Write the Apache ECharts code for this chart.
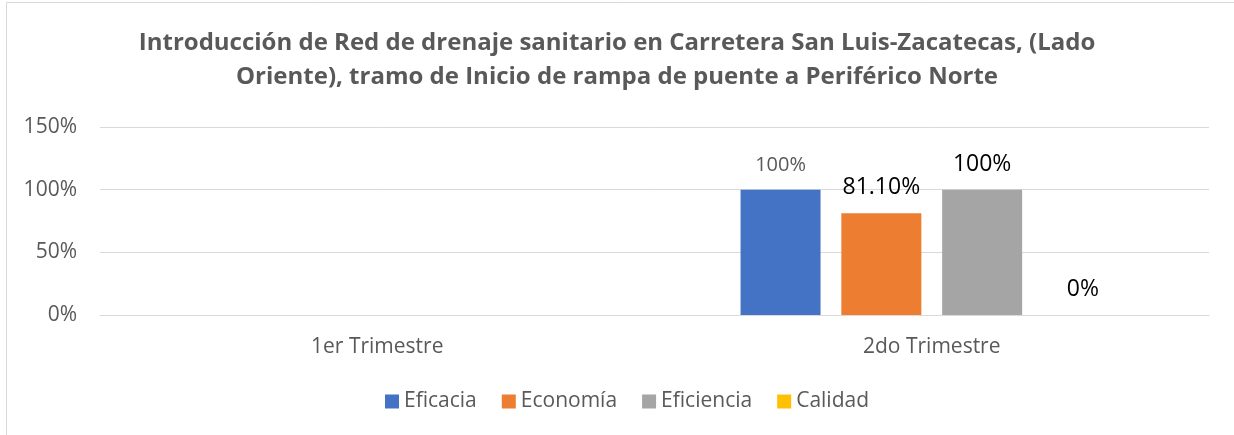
<!DOCTYPE html>
<html>
<head>
<meta charset="utf-8">
<script src="https://cdn.jsdelivr.net/npm/echarts@6/dist/echarts.min.js"></script>
<style>
  html, body { margin: 0; padding: 0; background: #fff; }
  #chartArea { width: 1234px; height: 435px; }
</style>
</head>
<body>
<div id="chartArea"></div>
<script>
var categories = ['1er Trimestre', '2do Trimestre'];
var seriesNames = ['Eficacia', 'Economía', 'Eficiencia', 'Calidad'];
var eficacia = [null, 100];
var economia = [null, 81.1];
var eficiencia = [null, 100];
var calidad = [null, 0];
var labelTexts = [
    [null, '100%'],
    [null, '81.10%'],
    [null, '100%'],
    [null, '0%']
];
var yTicks = [0, 50, 100, 150];

var colors = ['#4472C4', '#ED7D31', '#A5A5A5', '#FFC000'];
var fontFamily = '"Open Sans", sans-serif';
var grey = '#595959';

var myChart = echarts.init(document.getElementById('chartArea'));

function makeSeries(idx, values) {
    var first = idx === 0;
    return {
        name: seriesNames[idx],
        type: 'bar',
        data: values,
        barWidth: 80,
        barGap: '26%',
        itemStyle: { color: colors[idx] },
        label: {
            show: true,
            position: 'top',
            distance: 14,
            fontFamily: fontFamily,
            fontSize: first ? 20 : 23,
            color: first ? grey : '#000000',
            formatter: function(p) {
                return labelTexts[idx][p.dataIndex] || '';
            }
        }
    };
}

myChart.setOption({
    animation: false,
    backgroundColor: '#ffffff',
    color: colors,
    textStyle: { fontFamily: fontFamily },
    graphic: [{
        type: 'rect',
        shape: { x: 6.5, y: 2.5, width: 1400, height: 600 },
        style: { fill: 'none', stroke: '#d9d9d9', lineWidth: 1 },
        silent: true
    }],
    title: {
        text: 'Introducción de Red de drenaje sanitario en Carretera San Luis-Zacatecas, (Lado\nOriente), tramo de Inicio de rampa de puente a Periférico Norte',
        left: 'center',
        top: 21,
        padding: [5, 5, 5, 17],
        textStyle: {
            fontFamily: fontFamily,
            fontWeight: 'bold',
            fontSize: 24,
            lineHeight: 34,
            color: grey
        }
    },
    legend: {
        data: seriesNames,
        top: 386,
        left: 380,
        itemWidth: 14,
        itemHeight: 14,
        itemGap: 25,
        icon: 'rect',
        textStyle: { fontFamily: fontFamily, fontSize: 21, color: grey }
    },
    grid: { left: 100, right: 25, top: 127, bottom: 120 },
    xAxis: {
        type: 'category',
        data: categories,
        axisLine: { show: true, lineStyle: { color: '#d9d9d9', width: 1 } },
        axisTick: { show: false },
        axisLabel: { fontFamily: fontFamily, fontSize: 21, color: grey, margin: 22 }
    },
    yAxis: {
        type: 'value',
        min: yTicks[0],
        max: yTicks[yTicks.length - 1],
        interval: 50,
        axisLine: { show: false },
        axisTick: { show: false },
        splitLine: { lineStyle: { color: '#d9d9d9', width: 1 } },
        axisLabel: {
            fontFamily: fontFamily,
            fontSize: 21,
            color: grey,
            margin: 23,
            formatter: '{value}%'
        }
    },
    series: [
        makeSeries(0, eficacia),
        makeSeries(1, economia),
        makeSeries(2, eficiencia),
        makeSeries(3, calidad)
    ]
});
</script>
</body>
</html>
